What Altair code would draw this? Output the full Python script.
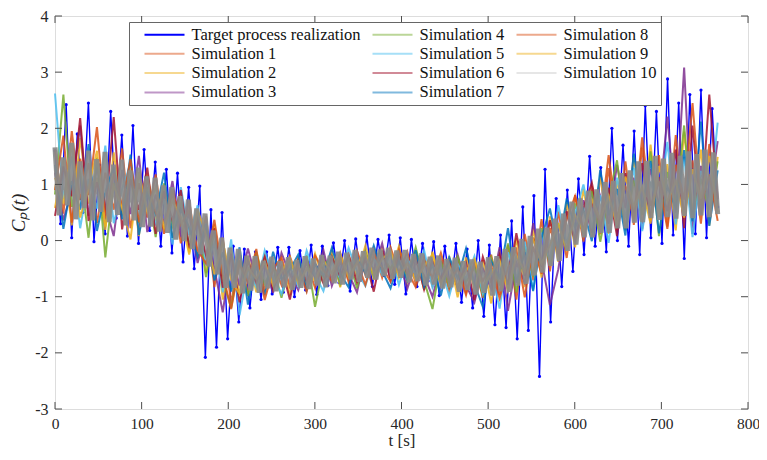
import altair as alt
import pandas as pd

T_END = 765.0

target = [1.6, 0.3, 2.42, 0.05, 1.9, 0.5, 2.45, -0.02, 1.35, 0.12,
          2.3, 0.4, 1.88, 0.08, 2.05, -0.05, 1.62, 0.18, 1.4, -0.1,
          1.27, -0.22, 1.2, -0.38, 0.95, -0.5, 0.97, -2.08, 0.55, -1.9,
          0.5, -1.75, -0.1, -1.45, -0.15, -1.2, -0.2, -1.05, -0.2, -0.95,
          -0.12, -0.92, -0.12, -1.0, -0.18, -0.88, -0.08, -0.96, -0.1, -0.8,
          -0.04, -0.75, 0.0, -0.9, 0.03, -0.7, 0.08, -0.82, 0.02, -0.62,
          0.1, -0.78, 0.05, -0.95, 0.02, -0.82, -0.05, -0.72, -0.02, -0.98,
          -0.1, -0.85, -0.05, -1.1, -0.15, -1.2, 0.0, -1.35, -0.08, -1.5,
          0.1, -1.55, 0.35, -1.75, 0.6, -1.6, 0.8, -2.42, 1.27, -1.45,
          0.75, -0.82, 0.9, -0.55, 1.1, -0.25, 1.5, -0.1, 1.3, -0.2,
          2.0, 0.0, 1.7, -0.1, 1.95, -0.25, 2.4, 0.05, 2.3, -0.05,
          2.88, 0.1, 2.45, -0.32, 2.6, 0.12, 2.68, 0.05, 2.35, 0.6]

sim1 = [1.62, 0.48, 1.95, 0.72, 1.38, 0.31, 1.21, 0.55, 1.64, 0.22,
        1.02, 0.41, 1.18, 0.12, 0.87, -0.05, 0.71, -0.32, 0.44, -0.83,
        0.05, -1.12, -0.21, -0.95, -0.33, -0.88, -0.41, -0.79, -0.28, -0.71,
        -0.39, -0.84, -0.3, -0.69, -0.22, -0.74, -0.18, -0.61, -0.15, -0.66,
        -0.12, -0.58, -0.2, -0.77, -0.29, -0.81, -0.33, -0.9, -0.35, -0.93,
        -0.41, -1.02, -0.25, -0.97, -0.08, -1.05, 0.12, -0.71, 0.38, -0.55,
        0.52, -0.31, 0.81, -0.02, 0.97, 0.11, 1.29, 0.19, 1.41, 0.28,
        1.66, 0.37, 1.52, 0.25, 1.88, 0.44, 1.43, 0.3, 1.72, 0.61]

sim2 = [0.58, 1.44, 0.27, 1.83, 0.66, 1.12, 0.19, 1.57, 0.52, 1.29,
        0.08, 1.19, 0.35, 0.98, 0.02, 0.83, -0.21, 0.56, -0.58, 0.29,
        -1.05, -0.11, -0.96, -0.27, -0.92, -0.25, -0.74, -0.36, -0.97, -0.31,
        -0.78, -0.23, -0.71, -0.19, -0.83, -0.27, -0.64, -0.09, -0.7, -0.14,
        -0.57, -0.1, -0.74, -0.24, -0.88, -0.2, -0.79, -0.28, -1.01, -0.3,
        -0.86, -0.35, -1.12, -0.19, -0.9, 0.04, -0.83, 0.21, -0.66, 0.43,
        -0.38, 0.68, -0.12, 0.92, 0.08, 1.14, 0.12, 1.07, 0.21, 1.48,
        0.33, 1.71, 0.42, 1.36, 0.18, 1.94, 0.5, 1.62, 0.27, 1.49]

sim3 = [1.21, 0.36, 0.9, 2.05, 0.44, 1.3, 0.62, 0.08, 1.26, 0.47,
        1.51, 0.15, 0.82, 0.3, 1.06, 0.11, 0.47, -0.4, 0.21, -0.49,
        -1.28, -0.23, -0.8, -0.14, -0.71, -0.44, -0.93, -0.22, -0.6, -0.88,
        -0.35, -0.66, -0.17, -0.81, -0.39, -0.59, -0.92, -0.24, -0.53, -0.05,
        -0.72, -0.33, -0.86, -0.38, -0.62, -1.0, -0.41, -0.72, -0.25, -0.8,
        -1.1, -0.5, -0.86, -0.12, -1.25, -0.39, -0.75, 0.31, -0.35, -1.15,
        -0.51, 0.47, 0.02, 0.72, 0.14, 0.79, 0.3, 1.35, 0.58, 1.12,
        0.2, 1.28, 0.61, 2.21, 0.49, 3.08, 0.12, 1.33, 0.71, 1.77]

sim4 = [0.82, 2.6, 0.6, 1.25, 0.05, 1.48, -0.3, 1.03, 0.45, 1.12,
        0.31, 0.95, 0.06, 1.02, 0.25, 0.66, -0.08, 0.42, -0.65, 0.17,
        -0.7, -1.2, -0.35, -0.99, -0.2, -0.77, -0.46, -1.02, -0.38, -0.7,
        -0.26, -1.18, -0.45, -0.28, -0.77, -0.31, -0.85, -0.2, -0.64, -0.28,
        -0.5, -0.22, -0.66, -0.12, -0.71, -1.22, -0.37, -0.81, -0.29, -0.74,
        -0.48, -0.96, -0.31, -0.8, -0.05, -0.92, -0.1, -0.64, 0.22, -0.43,
        0.31, -0.18, 0.66, 0.12, 0.88, -0.02, 0.74, 1.43, 0.18, 1.07,
        0.46, 1.59, 0.08, 1.22, 0.67, 2.05, 0.38, 1.1, 0.55, 1.41]

sim5 = [2.62, 0.74, 1.5, 0.22, 1.1, 0.57, 1.69, 0.31, 0.92, 1.37,
        0.44, 1.14, 0.27, 0.74, -0.07, 0.95, 0.1, 0.63, -0.44, -0.05,
        -0.92, 0.02, -1.33, -0.49, -0.83, -0.18, -0.66, -0.95, -0.47, -0.81,
        -0.18, -0.61, -0.9, -0.36, -0.68, -0.13, -0.55, -0.81, -0.3, -0.61,
        -0.21, -0.79, -0.32, -0.61, -0.17, -0.84, -0.49, -0.99, -0.42, -0.68,
        -0.28, -0.94, -0.52, -1.21, -0.21, -0.67, -0.02, -0.88, 0.14, -0.35,
        0.63, -0.05, 0.48, 1.0, 0.22, 0.81, -0.04, 1.12, 0.4, 1.3,
        0.17, 1.05, 0.57, 1.76, 0.29, 1.49, 0.06, 1.24, 0.63, 2.1]

sim6 = [0.44, 1.32, 0.79, 2.18, 0.35, 1.04, 0.5, 2.2, 0.2, 1.09,
        0.55, 1.3, 0.12, 0.88, 0.36, 0.9, -0.14, 0.36, -0.26, 0.22,
        -0.84, -0.24, -1.1, -0.36, -0.75, -0.29, -0.87, -0.47, -1.05, -0.34,
        -0.74, -0.4, -0.76, -0.29, -0.64, -0.25, -0.74, -0.33, -0.91, -0.18,
        -0.68, -0.25, -0.59, -0.29, -0.87, -0.36, -0.68, -0.36, -0.84, -0.4,
        -1.06, -0.29, -0.75, -0.26, -0.79, 0.13, -0.63, 0.05, -0.47, 0.36,
        -0.24, 0.52, 0.0, 0.58, 1.03, 0.25, 0.94, 0.08, 1.2, 0.49,
        1.38, 0.35, 1.13, 0.52, 1.62, 0.22, 2.05, 0.46, 2.6, 0.74]

sim7 = [1.35, 0.21, 1.06, 0.55, 1.72, 0.17, 0.86, 1.31, 0.38, 1.53,
        0.1, 0.83, 0.47, 1.21, 0.05, 0.56, 0.23, -0.28, 0.3, -0.71,
        -0.21, -0.91, -0.12, -1.14, -0.45, -0.97, -0.2, -0.69, -0.52, -0.25,
        -0.89, -0.42, -0.63, -0.13, -0.59, -0.83, -0.29, -0.58, -0.09, -0.54,
        -0.85, -0.37, -0.71, -0.17, -0.82, -0.43, -0.98, -0.3, -0.67, -0.14,
        -0.77, -1.18, -0.37, -0.66, 0.22, -0.75, -0.21, -0.9, 0.04, 0.57,
        -0.16, 0.75, 0.23, 0.55, -0.01, 1.26, 0.45, 0.92, 0.09, 1.55,
        0.6, 1.42, 0.13, 0.96, 0.58, 1.61, 0.34, 2.12, 0.26, 1.25]

sim8 = [0.9, 1.87, 0.32, 1.46, 0.81, 2.02, 0.4, 1.19, 0.63, 1.45,
        0.33, 1.09, 0.5, 0.2, 0.92, 0.28, 0.54, -0.17, -0.41, 0.37,
        -0.6, -1.22, -0.4, -0.75, -0.15, -1.06, -0.5, -0.3, -0.82, -0.46,
        -0.91, -0.27, -0.53, -0.72, -0.3, -0.69, -0.37, -0.79, -0.26, -0.48,
        -0.73, -0.16, -0.54, -0.83, -0.35, -0.66, -0.22, -0.74, -0.5, -0.97,
        -0.37, -0.72, -0.44, -1.03, -0.48, -0.16, -1.01, -0.11, -0.59, 0.22,
        -0.24, 0.38, 0.79, 0.19, 0.66, 0.3, 1.52, 0.4, 0.98, 0.38,
        1.84, 0.62, 1.06, 0.21, 1.35, 0.73, 2.45, 0.59, 1.18, 0.35]

sim9 = [1.12, 0.66, 1.73, 0.41, 0.93, 1.6, 0.25, 0.97, 0.58, 0.02,
        1.22, 0.52, 0.95, 0.23, 0.71, 0.42, -0.25, 0.55, 0.1, -0.6,
        -0.02, -0.7, -0.95, -0.49, -0.68, -0.38, -0.8, -0.55, -0.31, -0.77,
        -0.5, -0.72, -0.35, -0.58, -0.24, -0.65, -0.4, -0.23, -0.6, -0.33,
        -0.19, -0.66, -0.41, -0.7, -0.46, -0.25, -0.76, -0.45, -0.82, -0.54,
        -0.33, -0.83, -0.58, -0.35, -0.89, -0.27, -0.55, 0.02, -0.41, -0.08,
        0.28, -0.16, 0.45, 0.17, 0.73, 0.38, 0.8, 0.27, 1.14, 0.6,
        0.95, 0.3, 1.33, 0.69, 1.05, 0.41, 1.27, 0.75, 1.51, 0.5]

sim10 = [1.66, 0.45, 1.48, 0.63, 1.74, 0.38, 1.41, 0.58, 1.6, 0.36,
         1.45, 0.51, 1.58, 0.33, 1.35, 0.46, 1.44, 0.27, 1.25, 0.36,
         1.3, 0.24, 1.14, 0.25, 1.12, 0.16, 0.98, 0.14, 0.95, 0.02,
         0.79, -0.01, 0.73, -0.15, 0.57, -0.24, 0.48, -0.46, 0.18, -0.6,
         0.05, -0.84, -0.13, -0.84, -0.15, -0.94, -0.27, -0.89, -0.28, -0.93,
         -0.36, -0.85, -0.29, -0.9, -0.37, -0.83, -0.3, -0.88, -0.35, -0.84,
         -0.28, -0.86, -0.32, -0.8, -0.26, -0.83, -0.27, -0.76, -0.2, -0.78,
         -0.22, -0.69, -0.17, -0.73, -0.19, -0.66, -0.13, -0.69, -0.16, -0.63,
         -0.13, -0.68, -0.18, -0.66, -0.17, -0.74, -0.24, -0.72, -0.23, -0.8,
         -0.29, -0.78, -0.27, -0.85, -0.33, -0.83, -0.31, -0.91, -0.37, -0.88,
         -0.34, -0.96, -0.38, -0.93, -0.3, -0.98, -0.28, -0.9, -0.15, -0.91,
         -0.12, -0.8, 0.03, -0.77, 0.08, -0.62, 0.21, -0.57, 0.23, -0.45,
         0.39, -0.36, 0.48, -0.18, 0.69, -0.07, 0.75, 0.06, 0.89, 0.06,
         0.91, 0.14, 1.04, 0.14, 1.06, 0.22, 1.2, 0.22, 1.25, 0.32,
         1.41, 0.33, 1.42, 0.4, 1.51, 0.37, 1.46, 0.42, 1.56, 0.39,
         1.51, 0.44, 1.59, 0.4, 1.54, 0.45, 1.62, 0.42, 1.57, 0.47]

series_names = ["Target process realization"] + [f"Simulation {i}" for i in range(1, 11)]
series_values = [target, sim1, sim2, sim3, sim4, sim5, sim6, sim7, sim8, sim9, sim10]
plot_colors = ["#0000ff", "#d95319", "#edb120", "#7e2f8e", "#77ac30", "#4dbeee",
               "#a2142f", "#0072bd", "#d95319", "#edb120", "#8a8a8a"]
legend_colors = ["#0000ff", "#eca98c", "#f6d890", "#bf97c7", "#bbd698", "#a6dff7",
                 "#d18a97", "#80b9de", "#eca98c", "#f6d890", "#e6e6e6"]

x_ticks = [0, 100, 200, 300, 400, 500, 600, 700, 800]
y_ticks = [-3, -2, -1, 0, 1, 2, 3, 4]

W, H = 693, 393
SERIF = "Liberation Serif"
AX = "#4d4d4d"

xs = alt.Scale(domain=[0, 800], nice=False, zero=False)
ys = alt.Scale(domain=[-3, 4], nice=False, zero=False)

x_axis = alt.Axis(values=x_ticks, labelExpr="'' + datum.value", grid=False, ticks=False,
                  domain=False, labelFlush=False, labelFont=SERIF, labelFontSize=15.5,
                  labelColor="#262626", labelPadding=7, title="t [s]", titleFont=SERIF,
                  titleFontSize=17, titleFontWeight="normal", titleColor="#262626",
                  titlePadding=1)
y_axis = alt.Axis(values=y_ticks, labelExpr="'' + datum.value", grid=False, ticks=False,
                  domain=False, labelFlush=False, labelFont=SERIF, labelFontSize=16,
                  labelColor="#262626", labelPadding=7, title="Cₚ(t)", titleFont=SERIF,
                  titleFontSize=19, titleFontStyle="italic", titleFontWeight="normal",
                  titleColor="#262626", titlePadding=6)


def X(field):
    return alt.X(field, type="quantitative", scale=xs, axis=x_axis)


def Y(field):
    return alt.Y(field, type="quantitative", scale=ys, axis=y_axis)


def frame(name, vals):
    n = len(vals)
    return pd.DataFrame({"t": [i * T_END / (n - 1) for i in range(n)], "cp": vals, "series": name})


layers = []
# target process realization: line with dot markers
tdf = frame(series_names[0], series_values[0])
layers.append(alt.Chart(tdf).mark_line(stroke=plot_colors[0], strokeWidth=1.4).encode(x=X("t"), y=Y("cp")))
layers.append(alt.Chart(tdf).mark_point(filled=True, size=10, color=plot_colors[0], opacity=1)
              .encode(x=X("t"), y=Y("cp")))
# simulations (drawn in order, Simulation 10 on top)
for k in range(1, 11):
    df = frame(series_names[k], series_values[k])
    if k == 10:
        mk = alt.Chart(df).mark_line(stroke=plot_colors[k], strokeWidth=5, opacity=0.92)
    else:
        mk = alt.Chart(df).mark_line(stroke=plot_colors[k], strokeWidth=2.0, opacity=0.85)
    layers.append(mk.encode(x=X("t"), y=Y("cp")))

# legend (one row per series, nothing visible drawn)
ldf = pd.DataFrame({"series": series_names, "t": [0.0] * 11, "cp": [0.0] * 11})
legend = alt.Legend(orient="none", legendX=74, legendY=6, columns=3, title=None,
                    symbolType="M-2.5,0L2.5,0", symbolSize=256, symbolStrokeWidth=2,
                    symbolOpacity=1, symbolFillColor="transparent",
                    labelFont=SERIF, labelFontSize=16.5, labelColor="#111111",
                    labelLimit=0, labelOffset=18, symbolOffset=23,
                    fillColor="white", strokeColor="#666666",
                    padding=3.5, rowPadding=1.3, columnPadding=0)
layers.append(alt.Chart(ldf).mark_line(opacity=0).encode(
    x=X("t"), y=Y("cp"),
    color=alt.Color("series:N", scale=alt.Scale(domain=series_names, range=legend_colors),
                    legend=legend, sort=series_names)))

# inward ticks on all four sides
xt = pd.DataFrame({"v": x_ticks})
yt = pd.DataFrame({"v": y_ticks})
layers.append(alt.Chart(xt).mark_rule(color=AX, strokeWidth=1).encode(
    x=X("v"), y=alt.value(H), y2=alt.value(H - 7)))
layers.append(alt.Chart(xt).mark_rule(color=AX, strokeWidth=1).encode(
    x=X("v"), y=alt.value(0), y2=alt.value(7)))
layers.append(alt.Chart(yt).mark_rule(color=AX, strokeWidth=1).encode(
    y=Y("v"), x=alt.value(0), x2=alt.value(7)))
layers.append(alt.Chart(yt).mark_rule(color=AX, strokeWidth=1).encode(
    y=Y("v"), x=alt.value(W), x2=alt.value(W - 7)))

chart = alt.layer(*layers).properties(
    width=W, height=H,
    autosize=alt.AutoSizeParams(type="none"),
    padding={"left": 47, "top": 8, "right": 11, "bottom": 42},
).configure_view(stroke=AX, strokeWidth=1).configure(background="white")

chart.save("out.html", embed_options={"renderer": "svg", "actions": False})
